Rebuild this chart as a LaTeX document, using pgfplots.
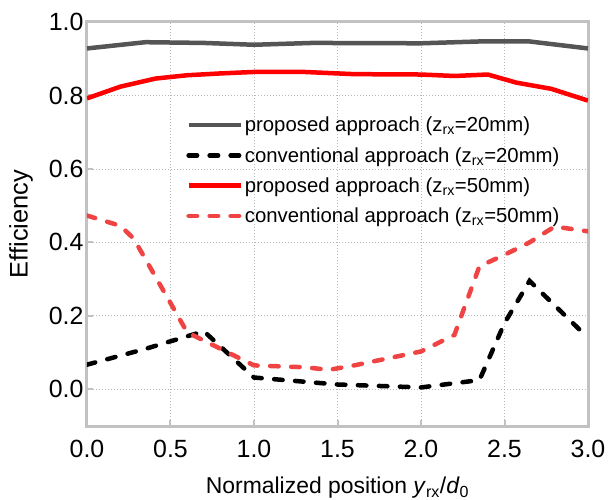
\documentclass[border=0pt]{standalone}
\usepackage{fontspec}
\setmainfont{Liberation Sans}
\usepackage{pgfplots}
\pgfplotsset{compat=1.18}
\definecolor{pgray}{HTML}{555555}
\definecolor{cred}{HTML}{F04444}
\definecolor{framegray}{HTML}{C2C2C2}

\begin{document}
\begin{tikzpicture}
\begin{axis}[
    name=ax,
    scale only axis,
    width=501bp, height=404bp,
    xmin=0, xmax=3,
    ymin=-0.1, ymax=1.0,
    xtick={0,0.5,1,1.5,2,2.5,3},
    ytick={0,0.2,0.4,0.6,0.8,1.0},
    /pgf/number format/assume math mode=true,
    /pgf/number format/.cd, fixed, fixed zerofill, precision=1, /pgfplots/.cd,
    tick label style={font=\fontsize{25}{28}\selectfont},
    xticklabel style={yshift=-11bp},
    xlabel style={font=\fontsize{23}{27}\selectfont, yshift=-12bp},
    ylabel style={font=\fontsize{25.5}{28}\selectfont, yshift=9bp},
    xlabel={Normalized position \textit{y}\textsubscript{rx}/\textit{d}\textsubscript{0}},
    ylabel={Efficiency},
    axis line style={framegray, line width=3bp},
    tick style={framegray, line width=2bp},
    tick align=inside,
    major tick length=6bp,
    xtick pos=bottom, ytick pos=left,
    grid=major,
    grid style={gray!55, line width=0.8bp, dash pattern=on 1bp off 2bp},
    legend cell align=left,
    legend style={draw=none, fill=none, at={(0.192,0.775)}, anchor=north west,
        font=\fontsize{20.4}{24}\selectfont, row sep=10bp},
    legend image code/.code={\draw[#1] (0bp,0bp) -- (52bp,0bp);},
]

\addplot[pgray, line width=4.5bp] coordinates {
 (0,0.928) (0.35,0.945) (0.7,0.943) (1.0,0.938) (1.35,0.943) (2.0,0.942) (2.35,0.947) (2.65,0.947) (3.0,0.928)
};
\addlegendentry{proposed approach (z\textsubscript{rx}=20mm)}

\addplot[black, line width=4.5bp, line cap=round, dash pattern=on 8.5bp off 12.5bp] coordinates {
 (0,0.067) (0.35,0.11) (0.7,0.158) (1.0,0.032) (1.5,0.013) (2.0,0.005) (2.35,0.025) (2.5,0.18) (2.65,0.295) (3.0,0.14)
};
\addlegendentry{conventional approach (z\textsubscript{rx}=20mm)}

\addplot[red, line width=4.5bp] coordinates {
 (0,0.792) (0.2,0.824) (0.41,0.846) (0.6,0.855) (0.8,0.86) (1.0,0.864) (1.3,0.864) (1.6,0.858) (2.0,0.857) (2.2,0.853) (2.4,0.857) (2.57,0.835) (2.78,0.818) (3.0,0.786)
};
\addlegendentry{proposed approach (z\textsubscript{rx}=50mm)}

\addplot[cred, line width=4.5bp, line cap=round, dash pattern=on 8.5bp off 12.5bp] coordinates {
 (0,0.473) (0.2,0.445) (0.28,0.41) (0.6,0.155) (0.8,0.11) (1.0,0.065) (1.3,0.06) (1.45,0.053) (1.6,0.065) (2.0,0.103) (2.2,0.148) (2.35,0.335) (2.5,0.366) (2.65,0.40) (2.8,0.443) (3.0,0.43)
};
\addlegendentry{conventional approach (z\textsubscript{rx}=50mm)}

\end{axis}
\pgfresetboundingbox
\path ([xshift=-87bp,yshift=-74bp]ax.south west) rectangle ([xshift=21bp,yshift=22bp]ax.north east);
\end{tikzpicture}
\end{document}
